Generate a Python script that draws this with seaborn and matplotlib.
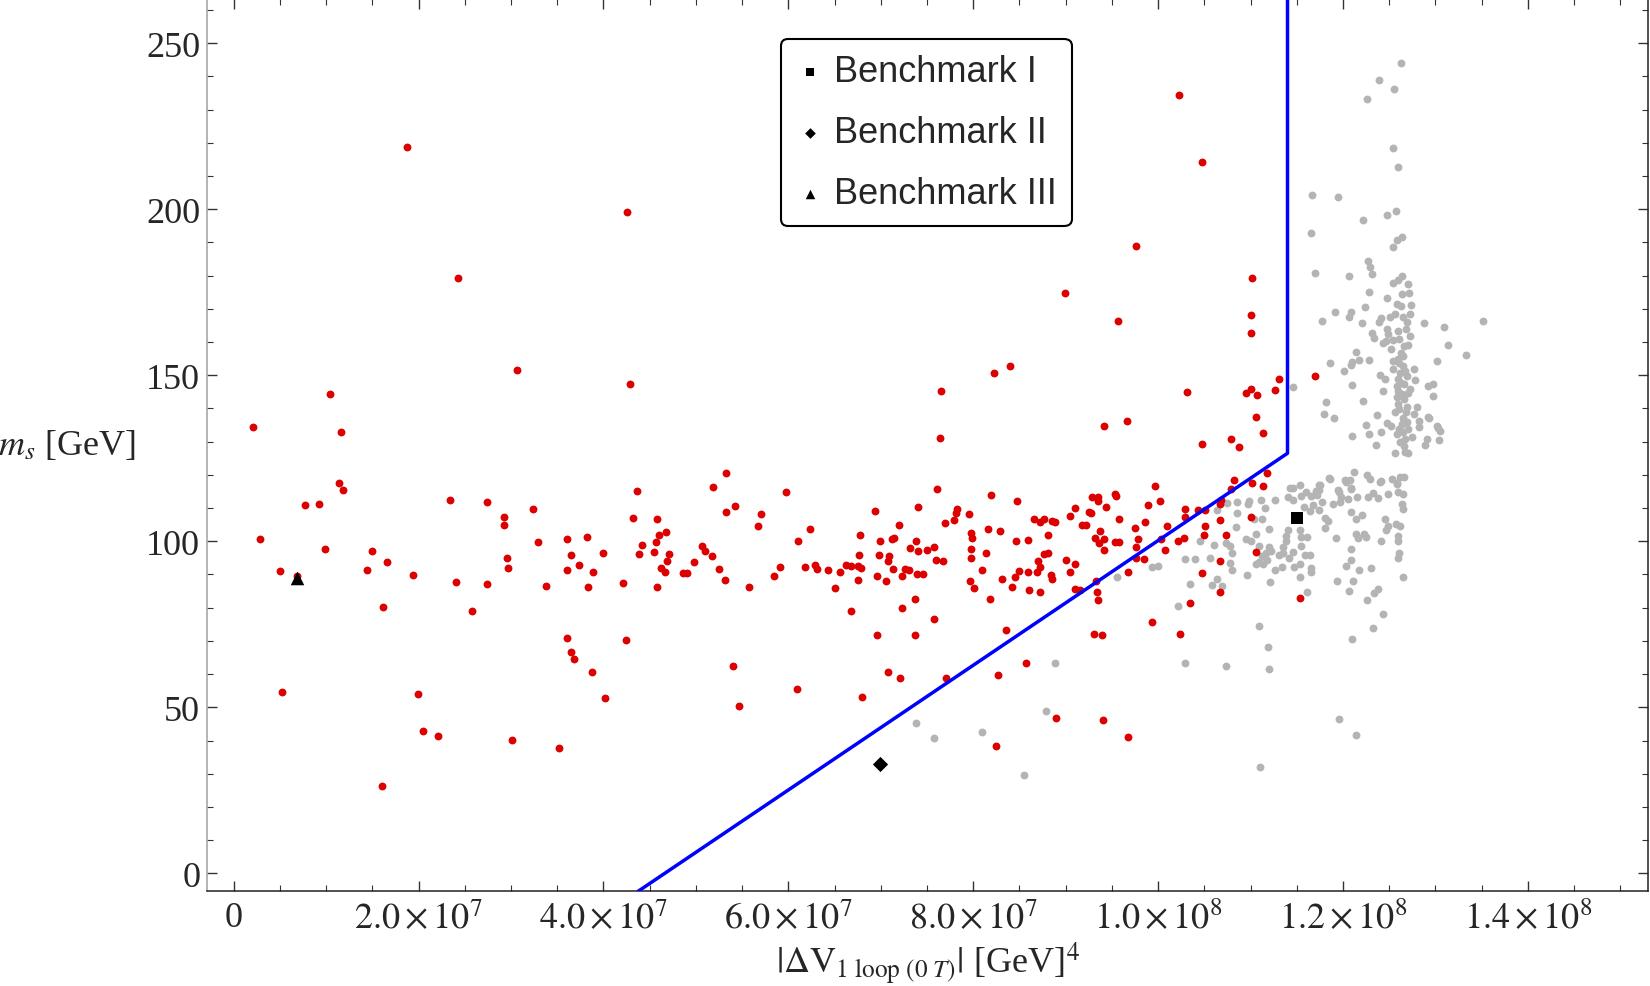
import numpy as np
import matplotlib
matplotlib.use("Agg")
import matplotlib.pyplot as plt
from matplotlib.ticker import MultipleLocator, FuncFormatter
import seaborn as sns

# |Delta V| in units of 1e7 GeV^4, m_s in GeV
red_dv = [
    0.286, 0.50, 0.52, 0.69, 0.77, 0.92, 0.99, 1.14, 1.18, 1.44, 1.50, 1.61, 1.60, 1.66, 1.94, 1.99,
    2.05, 2.21, 2.34, 2.41, 2.58, 2.74, 2.74, 2.92, 2.92, 2.96, 2.97, 3.01, 3.24, 3.29, 3.38, 3.52,
    3.61, 3.61, 3.65, 3.65, 3.68, 3.61, 3.74, 3.82, 3.83, 3.88, 3.89,
    1.88, 2.43, 3.07, 1.04, 0.21, 1.16,
    4.26, 9.76, 8.99, 9.57, 8.22, 8.40, 7.65, 7.64, 4.29, 9.42, 9.66, 5.33,
    10.23, 10.48, 11.02, 11.01, 11.00, 10.31, 10.95, 11.01, 11.07, 11.26, 11.31, 11.70, 11.06, 11.14,
    10.48, 10.79, 10.87, 9.97, 10.82, 10.79, 11.02, 11.14, 11.18,
    4.36, 5.18, 5.97, 7.61, 8.19, 8.47, 5.33, 5.42, 5.70, 5.67, 4.32, 4.58, 6.94, 7.40, 7.82, 7.81,
    7.79, 7.95, 7.69, 7.20, 8.66, 8.72, 8.77, 8.16, 8.29, 8.72, 8.60, 8.69, 8.72, 8.70, 8.77, 8.81,
    8.81, 8.46, 8.59, 8.59, 8.50, 8.45, 8.42, 8.31, 8.18, 8.10, 8.14, 7.98, 7.99, 7.98, 7.98, 7.97,
    8.01, 7.58, 7.60, 7.67, 7.58, 7.50, 7.40, 7.32, 7.38, 7.37, 7.37, 7.23, 7.12, 7.14, 7.09, 7.08,
    6.99, 6.98, 6.96, 7.06, 7.13, 7.23, 7.26, 7.30, 7.39, 7.46, 6.96, 7.08, 7.21, 7.71, 6.80, 8.36,
    8.27, 8.57, 8.25, 6.77, 6.76, 6.75, 6.79, 6.68, 6.62, 6.68, 6.75, 6.56, 6.51, 6.43, 6.31, 6.29,
    6.18, 6.10, 6.23, 5.91, 5.84, 5.57, 6.09, 5.40, 5.47, 4.24, 4.02, 4.21, 3.99, 4.38, 4.42, 4.55,
    4.57, 4.60, 4.68, 4.71, 4.69, 4.62, 4.67, 4.58, 4.86, 4.90, 4.98, 5.07, 5.10, 5.17, 5.25, 5.31,
    9.89, 10.02, 10.10, 10.03, 10.07, 9.86, 9.75, 9.78, 9.76, 9.85, 9.76, 9.67, 9.58, 9.54, 9.53, 9.44,
    9.42, 9.53, 9.58, 9.37, 9.42, 9.36, 9.32, 9.35, 9.28, 9.35, 9.27, 9.25, 9.22, 9.18, 9.10, 9.05,
    8.88, 8.85, 9.00, 9.10, 9.05, 8.84, 8.85, 9.10, 9.16, 9.33, 9.34, 9.35, 9.31, 9.39, 8.90, 9.40,
    9.67, 9.93, 10.24, 10.35, 10.48, 10.67, 10.67, 11.06, 11.54, 10.68, 10.67, 11.01, 10.67, 10.73,
    10.51, 10.50, 10.43, 10.51, 10.29, 10.29, 10.28, 10.22,
]
red_ms = [
    100.6, 90.9, 54.7, 89.5, 110.8, 111.1, 97.7, 117.6, 115.5, 91.3, 97.2, 80.2, 26.4, 93.7, 89.8, 53.9,
    43.0, 41.4, 112.5, 87.7, 78.9, 111.8, 87.1, 107.3, 104.8, 95.1, 91.9, 40.1, 109.8, 99.9, 86.6, 37.7,
    100.6, 70.8, 95.9, 66.6, 64.6, 91.4, 92.8, 101.3, 86.2, 60.5, 90.6,
    218.7, 179.2, 151.7, 144.5, 134.3, 132.9,
    199.3, 189.0, 174.8, 166.3, 150.7, 152.9, 145.2, 131.1, 147.5, 134.8, 136.1, 120.6,
    234.4, 214.3, 179.3, 168.1, 162.8, 145.1, 144.7, 145.8, 144.1, 145.7, 148.8, 149.8, 137.4, 132.5,
    129.2, 130.7, 128.5, 116.7, 118.5, 115.6, 117.4, 116.5, 120.7,
    115.0, 116.2, 114.8, 115.7, 113.9, 112.0, 108.9, 110.7, 108.3, 104.5, 106.9, 106.8, 109.2, 110.4, 109.7, 108.5,
    106.3, 108.1, 105.5, 104.8, 106.8, 105.9, 106.7, 103.7, 103.1, 84.6, 85.3, 90.7, 92.3, 94.2, 96.3, 96.4,
    101.8, 100.0, 100.5, 90.8, 91.1, 89.1, 86.1, 88.5, 82.6, 91.5, 96.4, 102.5, 100.9, 97.7, 94.9, 88.1,
    85.9, 76.6, 94.5, 94.0, 98.2, 97.3, 97.2, 98.1, 100.2, 82.5, 71.7, 79.8, 100.8, 101.1, 95.7, 94.2,
    100.0, 95.8, 89.5, 87.9, 91.7, 89.4, 91.6, 91.3, 90.2, 90.1, 71.8, 60.7, 58.7, 58.7, 53.0, 73.4,
    59.8, 63.4, 38.5, 101.8, 95.8, 88.3, 92.1, 78.9, 92.9, 92.7, 92.7, 90.6, 85.9, 91.5, 91.7, 92.9,
    92.2, 100.0, 103.7, 92.3, 89.6, 86.3, 55.6, 62.5, 50.5, 70.3, 52.9, 87.4, 96.5, 96.2, 99.0, 96.7,
    99.7, 101.8, 102.7, 96.3, 94.2, 92.0, 90.7, 86.1, 90.3, 90.3, 93.8, 98.6, 97.2, 95.6, 91.6, 88.4,
    111.0, 112.2, 104.5, 100.6, 97.4, 105.7, 103.9, 100.8, 98.3, 94.8, 95.0, 90.7, 106.8, 113.5, 114.1, 110.2,
    100.6, 99.8, 99.9, 103.2, 97.3, 99.5, 101.1, 113.4, 113.4, 112.1, 108.4, 108.7, 105.0, 104.8, 110.0, 107.7,
    105.9, 106.1, 94.3, 93.2, 90.7, 89.8, 88.7, 85.5, 85.3, 88.1, 84.6, 82.2, 72.2, 71.8, 46.7, 46.3,
    41.2, 75.7, 72.0, 81.5, 90.5, 94.2, 84.6, 96.9, 83.0, 112.5, 111.1, 107.3, 106.5, 102.0,
    104.5, 101.8, 109.3, 109.3, 109.8, 107.4, 101.1, 100.2,
]

gray_dv = [
    7.38, 7.58, 8.09, 8.55, 8.79, 8.88,
    9.56, 9.93, 10.00, 10.29, 10.35, 10.21, 10.29, 10.45, 10.40, 10.61, 10.73, 10.78, 10.80, 10.78,
    10.80, 10.56, 10.64, 10.58, 10.69, 10.96, 10.64, 10.75, 10.85, 10.97, 10.98, 11.16, 11.11, 11.26,
    10.84, 10.85, 11.04, 11.12, 11.20, 11.06, 10.95, 11.00, 11.09, 11.20, 11.22, 11.17, 11.12, 11.09,
    11.06, 11.14, 11.18, 11.26, 11.21, 11.09, 11.19, 11.20, 10.74, 11.10, 11.96, 12.14, 12.10, 12.32,
    12.43, 12.26, 12.34, 12.38, 12.11, 12.06, 11.94, 12.03, 12.09, 12.17, 12.30, 12.65, 12.60, 12.61,
    12.60, 12.41, 12.09, 11.93, 12.14, 12.23, 12.25, 12.16, 12.47, 12.49, 12.45, 12.57, 12.21, 12.14,
    12.09, 12.65, 12.62, 12.60, 11.53, 11.55, 11.46, 11.35, 11.31, 11.35, 11.42, 11.34, 11.47, 11.59,
    11.64, 11.65, 11.65, 11.53, 11.61, 11.53, 11.55, 11.61, 11.41, 11.38, 11.38, 11.58, 11.64, 11.74,
    11.81, 11.84, 11.81, 11.41, 11.46, 11.55, 11.65, 11.72, 11.68, 11.77, 11.95, 11.98, 12.05, 11.89,
    11.97, 12.09, 12.15, 12.27, 12.32, 12.38, 12.49, 12.64, 12.65, 11.74, 11.74, 11.54, 11.43, 11.85,
    12.02, 12.08, 12.26, 12.29, 12.41, 12.53, 12.62, 12.66, 12.58, 11.86, 11.75, 12.03, 12.40, 12.58,
    12.60, 12.09, 11.46, 11.60, 11.96, 11.71,
    12.63, 12.39, 12.55, 12.26, 12.54, 12.60, 11.67, 11.95, 12.57, 12.48, 12.22, 11.65, 12.64, 12.58,
    12.54, 12.27, 12.29, 12.31, 11.70, 12.06, 12.64, 12.60, 12.54, 12.70, 12.28, 12.64, 12.71, 12.48,
    12.58, 12.63, 12.74, 12.24, 11.91, 12.09, 12.06, 11.77, 12.21, 12.39, 12.41, 12.51, 12.56, 12.65,
    12.72, 12.69, 12.88, 13.09, 13.51, 12.31, 12.34, 12.48, 12.49, 12.60, 12.68, 12.73, 12.43, 12.47,
    12.54, 12.61, 12.66, 12.70, 12.52, 13.14, 12.14, 13.33, 12.65, 12.59, 12.54, 12.17, 12.10, 12.28,
    11.86, 13.02, 12.09, 12.01, 12.54, 12.65, 12.77, 12.62, 12.69, 12.40, 12.45, 12.78, 12.60, 12.66,
    12.10, 12.97, 12.92, 11.46, 12.43, 12.60, 12.73, 12.97, 12.58, 12.66, 12.22, 11.82, 12.80, 12.60,
    12.69, 12.56, 11.79, 11.90, 12.37, 12.77, 12.65, 12.93, 12.69, 12.48, 12.52, 12.82, 12.25, 13.02,
    13.05, 12.41, 12.58, 12.65, 12.75, 12.28, 12.10, 12.91, 13.04, 12.89, 12.36, 12.66, 12.67, 12.56,
    12.70, 12.12,
    12.63, 12.61, 12.67, 12.63, 12.58, 12.70, 12.64, 12.61, 12.68, 12.64, 12.61, 12.70, 12.67, 12.62,
    13.03, 12.82, 12.92,
]
gray_ms = [
    45.4, 40.8, 42.5, 29.6, 48.9, 63.4,
    89.2, 92.4, 92.7, 94.6, 87.1, 80.4, 63.4, 100.2, 94.8, 98.9, 99.4, 98.5, 96.4, 93.5,
    91.5, 94.9, 88.7, 86.7, 86.4, 89.8, 109.3, 111.6, 111.9, 111.3, 112.2, 110.0, 112.5, 112.5,
    104.3, 108.6, 106.6, 106.6, 103.7, 102.3, 100.6, 100.0, 98.6, 98.3, 97.2, 96.6, 95.5, 93.8,
    93.2, 93.2, 94.3, 91.5, 87.8, 74.6, 68.3, 61.6, 62.4, 32.1, 46.5, 41.8, 70.5, 73.9,
    78.1, 82.4, 84.5, 85.5, 87.9, 85.0, 87.9, 92.6, 94.3, 91.5, 92.1, 89.1, 94.9, 96.6,
    100.0, 100.0, 97.7, 101.1, 102.3, 102.3, 101.4, 101.1, 103.4, 104.5, 106.8, 105.1, 107.9, 106.6,
    108.8, 114.2, 104.5, 101.7, 93.2, 98.6, 96.9, 98.3, 96.0, 96.6, 94.9, 92.4, 92.4, 96.0,
    96.0, 92.1, 90.7, 89.2, 84.7, 103.4, 101.4, 101.4, 103.4, 101.7, 100.0, 110.2, 109.1, 109.3,
    107.0, 106.2, 104.0, 113.4, 112.5, 113.6, 113.6, 113.8, 111.0, 111.9, 115.3, 113.4, 112.8, 111.1,
    111.9, 115.9, 113.4, 113.4, 114.5, 113.0, 114.2, 111.3, 109.6, 116.8, 115.3, 116.8, 115.9, 119.0,
    118.4, 118.4, 120.1, 118.7, 118.1, 118.9, 119.3, 119.5, 117.5, 118.9, 116.9, 118.0, 118.0, 117.2,
    114.7, 115.7, 116.0, 114.7, 114.9, 115.2,
    244.0, 239.0, 236.2, 233.1, 218.5, 212.7, 204.3, 203.7, 199.4, 198.2, 196.6, 192.8, 191.6, 190.8,
    188.5, 184.3, 182.7, 180.4, 180.9, 180.0, 179.9, 178.7, 177.7, 177.6, 175.1, 174.6, 174.7, 173.4,
    171.5, 171.0, 171.1, 170.6, 168.9, 169.1, 167.5, 166.4, 165.7, 166.0, 167.1, 167.6, 168.4, 167.6,
    168.4, 166.0, 165.8, 164.6, 166.3, 162.7, 161.3, 164.0, 162.5, 163.2, 164.0, 161.8, 159.8, 160.3,
    160.5, 161.0, 158.7, 159.1, 158.0, 159.0, 157.1, 156.1, 155.8, 154.8, 154.4, 154.6, 154.1, 154.7,
    153.8, 154.4, 153.1, 151.2, 151.8, 152.8, 152.0, 150.8, 149.8, 150.2, 149.0, 148.6, 148.8, 147.3,
    147.2, 147.5, 146.8, 146.5, 145.3, 145.3, 145.8, 143.7, 143.3, 142.8, 142.2, 142.0, 140.4, 141.3,
    140.3, 139.0, 138.3, 137.2, 137.9, 138.3, 137.0, 137.0, 136.0, 135.7, 134.8, 134.5, 135.1, 134.6,
    133.2, 132.8, 132.4, 132.8, 131.5, 132.2, 131.8, 130.8, 130.6, 129.0, 129.0, 128.8, 126.8, 126.5,
    126.6, 121.0,
    156.8, 153.8, 151.3, 147.8, 146.8, 144.8, 144.3, 139.8, 138.8, 135.3, 133.8, 133.8, 130.8, 129.8,
    134.2, 136.1, 137.4,
]

# exclusion boundary (blue)
bound_dv = [4.37, 11.40, 11.40]
bound_ms = [-5.5, 126.5, 270.0]

bench_names = ["Benchmark I", "Benchmark II", "Benchmark III"]
bench_dv = [11.50, 6.99, 0.685]
bench_ms = [107.0, 32.8, 89.0]
bench_markers = ["s", "D", "^"]
bench_sizes = [75, 60, 95]

sns.set_style("ticks")
plt.rcParams["font.family"] = ["Liberation Serif", "DejaVu Serif"]
plt.rcParams["mathtext.fontset"] = "stix"

fig = plt.figure(figsize=(16.5, 9.87), dpi=100)
ax = fig.add_axes([0.1255, 0.0963, 0.8733, 0.9037])

E7 = 1e7
sns.scatterplot(x=np.array(gray_dv) * E7, y=gray_ms, color="#b4b4b4", s=32,
                linewidth=0, ax=ax, zorder=2)
sns.scatterplot(x=np.array(red_dv) * E7, y=red_ms, color="#dc0000", s=32,
                linewidth=0, ax=ax, zorder=3)
ax.plot(np.array(bound_dv) * E7, bound_ms, color="#0000ff", lw=2.5, zorder=4)

for name, bx, by, mk, sz in zip(bench_names, bench_dv, bench_ms, bench_markers, bench_sizes):
    ax.scatter([bx * E7], [by], marker=mk, s=sz, color="black", linewidths=0,
               label=name, zorder=5)

ax.set_xlim(-2.88e6, 1.530e8)
ax.set_ylim(-5.3, 263.3)

ax.xaxis.set_major_locator(MultipleLocator(2e7))
ax.xaxis.set_minor_locator(MultipleLocator(5e6))
ax.yaxis.set_major_locator(MultipleLocator(50))
ax.yaxis.set_minor_locator(MultipleLocator(10))


def sci_fmt(v, pos):
    if abs(v) < 1:
        return "0"
    e = int(np.floor(np.log10(abs(v)) + 1e-9))
    m = v / 10 ** e
    return r"$%.1f\times10^{%d}$" % (m, e)


ax.xaxis.set_major_formatter(FuncFormatter(sci_fmt))
ax.yaxis.set_major_formatter(FuncFormatter(lambda v, p: "%d" % round(v)))

ax.tick_params(axis="both", which="both", direction="in", top=True, right=True,
               color="#333333", labelsize=26)
ax.tick_params(axis="both", which="major", length=7, width=1.0)
ax.tick_params(axis="both", which="minor", length=4, width=0.8)
ax.tick_params(axis="y", pad=5)
ax.tick_params(axis="x", pad=7)

for side in ["top", "bottom", "right"]:
    ax.spines[side].set_color("#222222")
    ax.spines[side].set_linewidth(1.1)
ax.spines["left"].set_color("#a0a0a0")
ax.spines["left"].set_linewidth(1.1)

ax.set_ylabel(r"$m_s$ [GeV]", rotation=0, fontsize=26, ha="center", va="center")
ax.yaxis.set_label_coords(-0.097, 0.5)
ax.set_xlabel(r"$|\Delta \mathrm{V}_{1\ \mathrm{loop}\ (0\ T)}|$ [GeV]$^{4}$", fontsize=26,
              va="center")
ax.xaxis.set_label_coords(0.5, -0.08)

leg = ax.legend(loc="upper left", bbox_to_anchor=(0.398, 0.955), frameon=True, fancybox=True,
                prop={"family": ["Liberation Sans", "DejaVu Sans"], "size": 26},
                edgecolor="black", framealpha=1, borderpad=0.42, labelspacing=0.72,
                handletextpad=0.25, handlelength=0.8, markerscale=0.7, borderaxespad=0)
leg.get_frame().set_linewidth(1.5)

fig.savefig("out.png", dpi=100)
